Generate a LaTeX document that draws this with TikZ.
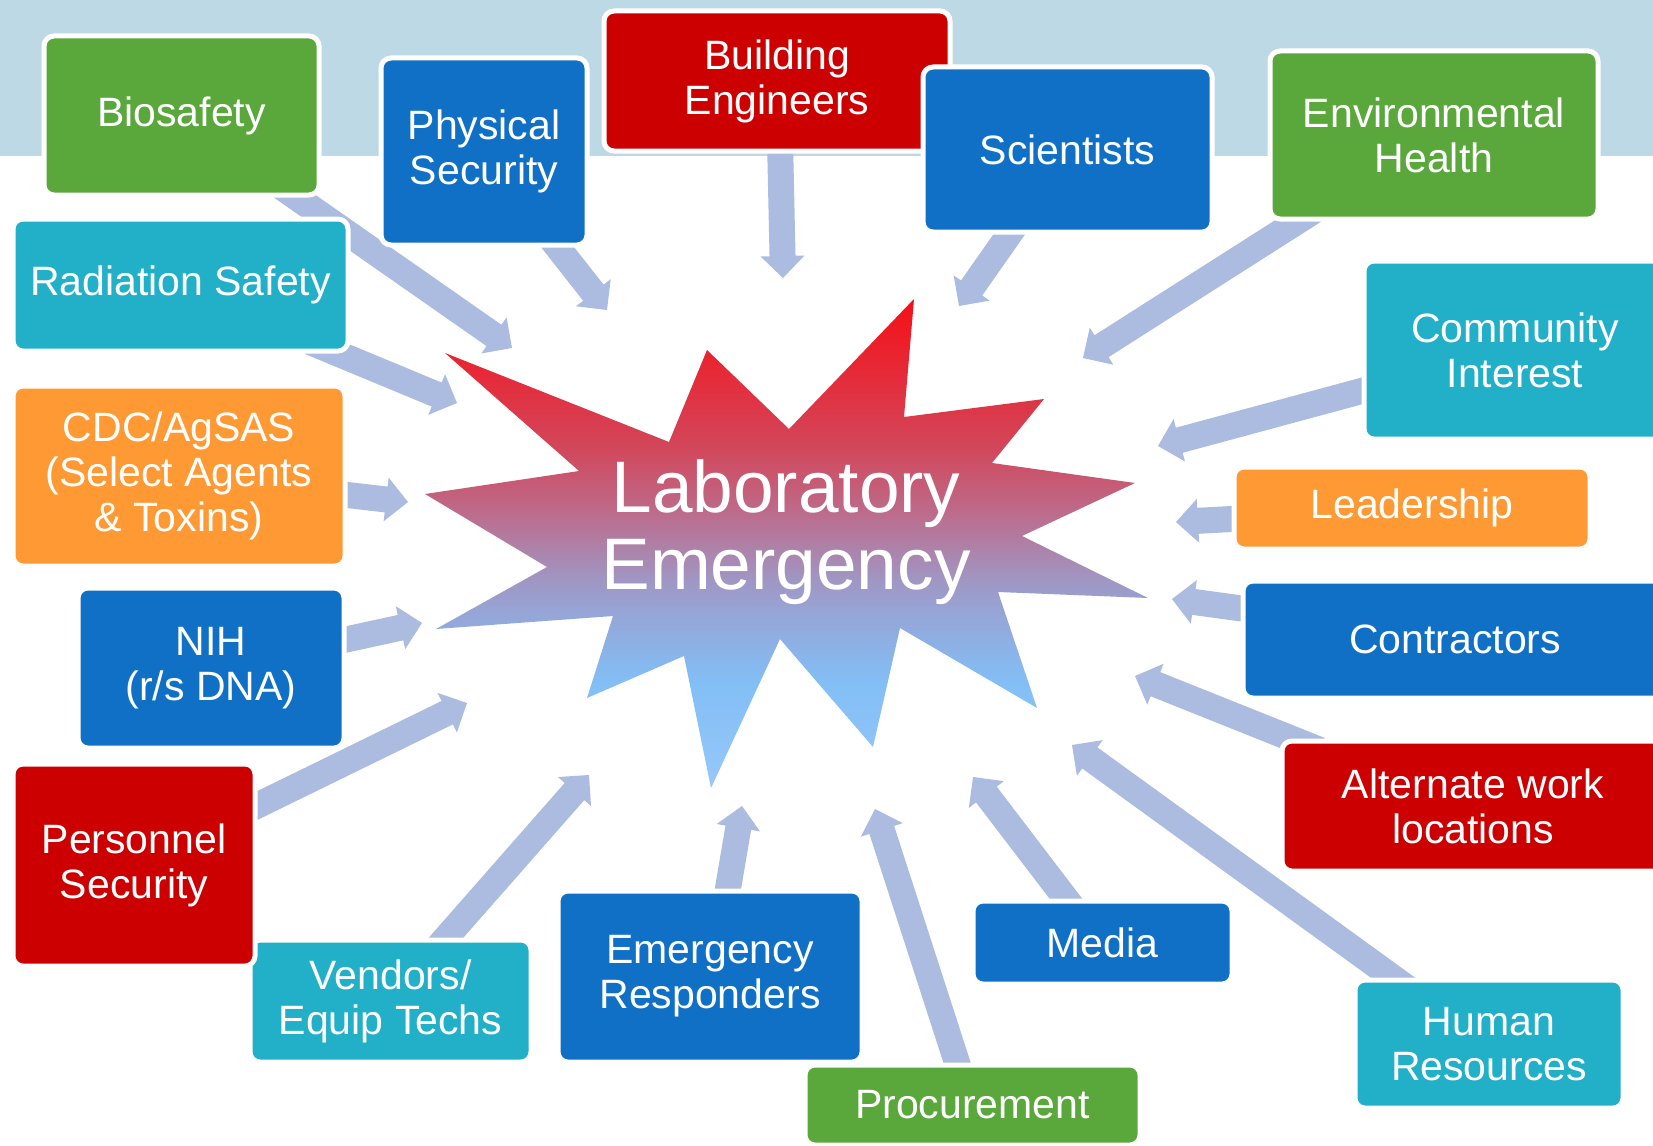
\documentclass[tikz,border=0pt]{standalone}
\usepackage{fontspec}
\setmainfont{Liberation Sans}
\usetikzlibrary{calc}
\definecolor{bandcol}{RGB}{189,217,230}
\definecolor{cgreen}{RGB}{90,168,60}
\definecolor{cblue}{RGB}{16,112,198}
\definecolor{cred}{RGB}{204,0,0}
\definecolor{cteal}{RGB}{34,176,200}
\definecolor{corange}{RGB}{255,153,51}
\definecolor{arrowcol}{RGB}{171,188,224}
\pgfdeclareverticalshading{starshade}{100bp}{rgb(0bp)=(0.588,0.784,0.98); rgb(25bp)=(0.588,0.784,0.98); rgb(36bp)=(0.51,0.745,0.96); rgb(42.9bp)=(0.588,0.647,0.843); rgb(46.3bp)=(0.627,0.588,0.765); rgb(53.1bp)=(0.737,0.424,0.549); rgb(59.9bp)=(0.824,0.275,0.353); rgb(66.7bp)=(0.894,0.176,0.235); rgb(75bp)=(0.96,0.06,0.086); rgb(100bp)=(0.96,0.06,0.086)}
\newcommand\blockarrow[2]{%
  \coordinate (ahb) at ($(#2)!11pt!(#1)$);
  \fill[arrowcol] ($(#1)!6.5pt!90:(#2)$) -- ($(ahb)!6.5pt!-90:(#1)$) -- ($(ahb)!11pt!-90:(#1)$) -- (#2) -- ($(ahb)!11pt!90:(#1)$) -- ($(ahb)!6.5pt!90:(#1)$) -- ($(#1)!6.5pt!-90:(#2)$) -- cycle;
}
\begin{document}
\begin{tikzpicture}[x=0.5pt,y=-0.5pt,
  box/.style={rectangle, rounded corners=5pt, draw=white, line width=2.5pt, text=white, align=center, inner sep=0pt, font=\fontsize{20.5}{22.5}\selectfont}]
\clip (0,0) rectangle (1653,1145);
\fill[white] (0,0) rectangle (1653,1145);
\fill[bandcol] (0,0) rectangle (1653,156);
% star
\shade[shading=starshade] (445,353) -- (669,442) -- (707,350) -- (789,429) -- (914,299) -- (904,417) -- (1044,399) -- (992,463) -- (1135,483) -- (1022,536) -- (1148,598) -- (998,592) -- (1037,708) -- (900,628) -- (873,747) -- (780,639) -- (711,788) -- (684,656) -- (587,698) -- (613,616) -- (436,629) -- (547,567) -- (425,494) -- (579,471) -- cycle;
\node[text=white, align=center, inner sep=0pt, font=\fontsize{36.5}{38.5}\selectfont] (lab) at (786,532) {Laboratory\\Emergency};
% arrow coordinates
\coordinate (t-bio) at (270,179);   \coordinate (h-bio) at (512,348);
\coordinate (t-phys) at (537,221);  \coordinate (h-phys) at (607,310);
\coordinate (t-bldg) at (780,140);  \coordinate (h-bldg) at (783,278);
\coordinate (t-sci) at (1020,219);  \coordinate (h-sci) at (959,306);
\coordinate (t-env) at (1320,207);  \coordinate (h-env) at (1083,358);
\coordinate (t-rad) at (310,342);   \coordinate (h-rad) at (457,403);
\coordinate (t-comm) at (1380,386); \coordinate (h-comm) at (1158,446);
\coordinate (t-cdc) at (330,493);   \coordinate (h-cdc) at (408,502);
\coordinate (t-lead) at (1250,518); \coordinate (h-lead) at (1176,522);
\coordinate (t-nih) at (330,643);   \coordinate (h-nih) at (422,623);
\coordinate (t-cont) at (1260,611); \coordinate (h-cont) at (1172,599);
\coordinate (t-pers) at (240,814);  \coordinate (h-pers) at (467,703);
\coordinate (t-alt) at (1320,750);  \coordinate (h-alt) at (1135,676);
\coordinate (t-vend) at (437,948);  \coordinate (h-vend) at (589,775);
\coordinate (t-er) at (726,900);    \coordinate (h-er) at (742,806);
\coordinate (t-media) at (1073,908);\coordinate (h-media) at (973,777);
\coordinate (t-proc) at (962,1078); \coordinate (h-proc) at (875,809);
\coordinate (t-hr) at (1410,990);   \coordinate (h-hr) at (1072,745);
\foreach \n in {bio,phys,bldg,sci,env,rad,comm,cdc,lead,nih,cont,pers,alt,vend,er,media,proc,hr}{\blockarrow{t-\n}{h-\n}}
% boxes
\node[box, fill=cgreen, minimum width=137.5pt, minimum height=79.5pt] (bio) at (181.5,115.5) {Biosafety};
\node[box, fill=cblue, minimum width=103pt, minimum height=93.5pt] (phys) at (484,151.5) {Physical\\Security};
\node[box, fill=cred, minimum width=173pt, minimum height=70pt] (bldg) at (777,81) {Building\\Engineers};
\node[box, fill=cblue, minimum width=144.5pt, minimum height=82.5pt] (sci) at (1067.5,149.5) {Scientists};
\node[box, fill=cgreen, minimum width=164pt, minimum height=84pt] (env) at (1434,135) {Environmental\\Health};
\node[box, fill=cteal, minimum width=167.5pt, minimum height=66pt] (rad) at (180.5,285) {Radiation Safety};
\node[box, fill=cteal, minimum width=151pt, minimum height=89pt] (comm) at (1515,350) {Community\\Interest};
\node[box, fill=corange, minimum width=166pt, minimum height=90pt] (cdc) at (179,476) {CDC/AgSAS\\(Select Agents\\\& Toxins)};
\node[box, fill=corange, minimum width=178pt, minimum height=41pt] (lead) at (1412,508) {Leadership};
\node[box, fill=cblue, minimum width=133pt, minimum height=80pt] (nih) at (211,668) {NIH\\(r/s DNA)};
\node[box, fill=cblue, minimum width=212pt, minimum height=58.5pt] (cont) at (1455,639.5) {Contractors};
\node[box, fill=cred, minimum width=191pt, minimum height=65pt] (alt) at (1473,806) {Alternate work\\locations};
\node[box, fill=cteal, minimum width=140.5pt, minimum height=61pt] (vend) at (390.5,1001) {Vendors/\\Equip Techs};
\node[box, fill=cred, minimum width=121pt, minimum height=101pt] (pers) at (134,865) {Personnel\\Security};
\node[box, fill=cblue, minimum width=152pt, minimum height=85.5pt] (er) at (710,976.5) {Emergency\\Responders};
\node[box, fill=cblue, minimum width=129.5pt, minimum height=41.5pt] (media) at (1102.5,942.5) {Media};
\node[box, fill=cgreen, minimum width=167.5pt, minimum height=40pt] (proc) at (972.5,1105) {Procurement};
\node[box, fill=cteal, minimum width=134pt, minimum height=64pt] (hr) at (1489,1044) {Human\\Resources};
\end{tikzpicture}
\end{document}
